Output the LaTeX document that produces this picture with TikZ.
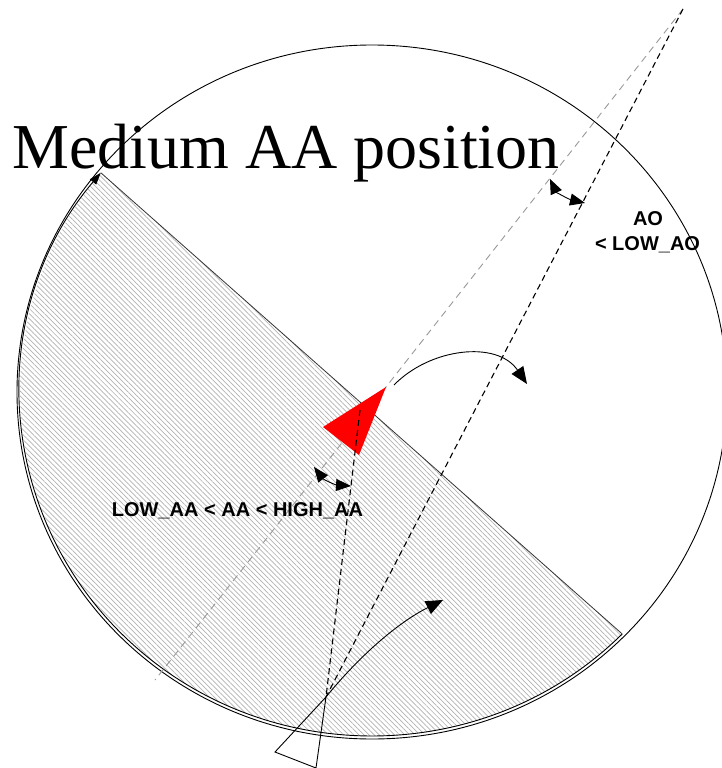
\documentclass[tikz,border=0pt]{standalone}
\usepackage{fontspec}
\setmainfont{Liberation Serif}
\newfontfamily\lblfont{Liberation Sans}
\usetikzlibrary{arrows.meta,patterns.meta,calc}
\begin{document}
\begin{tikzpicture}[x=1pt,y=-1pt,
  outline/.style={line width=0.9pt, black},
  chord/.style={line width=0.8pt, black!80},
  blackdash/.style={line width=1.1pt, black, dash pattern=on 6pt off 4pt},
  graydash/.style={line width=0.9pt, black!40, dash pattern=on 7pt off 5pt},
  bigtip/.style={-{Triangle[length=17pt,width=14pt]}},
  smalltip/.style={{Triangle[length=15pt,width=12pt]}-{Triangle[length=15pt,width=12pt]}},
  lbl/.style={font=\lblfont\bfseries\fontsize{20}{22}\selectfont, inner sep=0pt, anchor=base},
  hatch/.style={pattern={Lines[angle=-45,distance=3.6pt,line width=0.7pt]}, pattern color=black!30}]
\useasboundingbox (0,0) rectangle (721,768);
\fill[white] (0,0) rectangle (721,768);

% geometry
\coordinate (C) at (372,392);
\coordinate (P1) at ($(C)+(219.6:352 and 344)$);
\coordinate (P2) at ($(C)+(44.7:352 and 344)$);

% hatched circular segment
\fill[hatch] (P1) arc[start angle=219.6, end angle=44.7, x radius=352, y radius=344] -- cycle;

% outer circle
\draw[outline] (C) ellipse[x radius=355, y radius=347];

% segment arc with arrow to upper end
\draw[outline, -{Triangle[length=12pt,width=8pt]}] (P2) arc[start angle=44.7, end angle=219.6, x radius=352, y radius=344];
% chord
\draw[chord] (P1) -- (P2);

% reference lines
\coordinate (T) at (683,9);
\coordinate (G) at (155,680);
\coordinate (A) at (326,697);
\coordinate (D) at (360,410);
\coordinate (R1) at (386,387);
\coordinate (R2) at (323,427);
\coordinate (R3) at (359,455);

\draw[graydash] (T) -- (R1);
\draw[graydash] (R1) -- (G);
\draw[blackdash] (T) -- (A);

% red target triangle
\fill[red] (R1) -- (R2) -- (R3) -- cycle;
\draw[blackdash] (D) -- (A);

% own triangle at bottom
\coordinate (B1) at (275,752);
\coordinate (B2) at (316,768);
\draw[outline] (A) -- (B1) -- (B2) -- cycle;

% motion arrows
\coordinate (M1) at (394,385);
\coordinate (M2) at (527,384);
\draw[outline, bigtip] (M1) .. controls (430,348) and (497,340) .. (M2);
\coordinate (N2) at (443,600);
\draw[outline, bigtip] (A) .. controls (356,660) and (395,624) .. (N2);

% angle arcs
\coordinate (L1) at (314,467);
\coordinate (L2) at (351,486);
\draw[line width=0.9pt, smalltip] (L1) .. controls (324,480) and (336,485) .. (L2);
\coordinate (U1) at (550,179);
\coordinate (U2) at (585,203);
\draw[line width=0.9pt, smalltip] (U1) .. controls (556,192) and (568,199) .. (U2);

% texts
\node[anchor=base west, inner sep=0pt, font=\fontsize{64}{70}\selectfont] (title) at (12,168) {Medium AA position};
\node[lbl] (aa) at (237.5,516) {LOW\_AA < AA < HIGH\_AA};
\node[lbl] (ao1) at (648,225) {AO};
\node[lbl] (ao2) at (647.5,250) {< LOW\_AO};
\end{tikzpicture}
\end{document}
